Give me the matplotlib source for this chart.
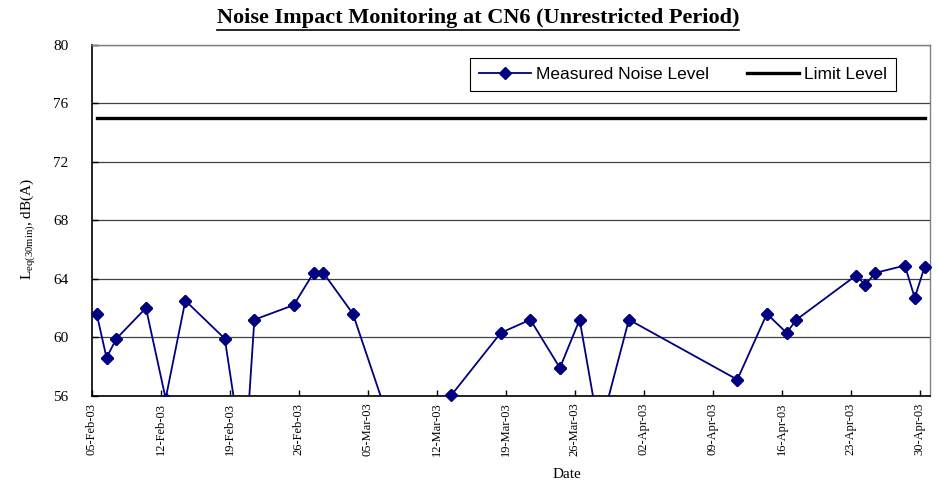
import matplotlib
matplotlib.use('Agg')
import matplotlib.pyplot as plt
import matplotlib.dates as mdates
from matplotlib.lines import Line2D
import numpy as np
import pandas as pd

# ── Data ─────────────────────────────────────────────────────────────────────
DATES = [
    '2003-02-05', '2003-02-06', '2003-02-07', '2003-02-10', '2003-02-12',
    '2003-02-14', '2003-02-18', '2003-02-20', '2003-02-21', '2003-02-25',
    '2003-02-27', '2003-02-28', '2003-03-03', '2003-03-07', '2003-03-13',
    '2003-03-18', '2003-03-21', '2003-03-24', '2003-03-26', '2003-03-28',
    '2003-03-31', '2003-04-11', '2003-04-14', '2003-04-16', '2003-04-17',
    '2003-04-23', '2003-04-24', '2003-04-25', '2003-04-28', '2003-04-29',
    '2003-04-30',
]
NOISE = [
    61.6, 58.6, 59.9, 62.0, 55.8,
    62.5, 59.9, 51.0, 61.2, 62.2,
    64.4, 64.4, 61.6, 53.6, 56.05,
    60.3, 61.2, 57.9, 61.2, 53.5,
    61.2, 57.1, 61.6, 60.3, 61.2,
    64.2, 63.6, 64.4, 64.9, 62.7,
    64.8,
]
LIMIT = 75
Y_TICKS = [56, 60, 64, 68, 72, 76, 80]
X_START, X_END = '2003-02-05', '2003-05-01'

NAVY = '#000080'

plt.rcParams['font.family'] = ['Liberation Serif', 'DejaVu Serif']
plt.rcParams['mathtext.fontset'] = 'custom'
plt.rcParams['mathtext.rm'] = 'Liberation Serif'
plt.rcParams['mathtext.it'] = 'Liberation Serif:italic'

# Excel puts each day's point in the middle of the day
x = pd.to_datetime(DATES) + pd.Timedelta(hours=12)
noise = np.array(NOISE)

fig = plt.figure(figsize=(9.39, 4.84), dpi=100)
ax = fig.add_axes([0.0977, 0.1824, 0.8922, 0.7252])

ax.plot(x, noise, color=NAVY, lw=1.3, marker='D', ms=6,
        label='Measured Noise Level', zorder=3)
# markers are not clipped in the original
visible = np.where(noise >= Y_TICKS[0], noise, np.nan)
ax.plot(x, visible, ls='none', marker='D', ms=6, color=NAVY,
        clip_on=False, zorder=4)
ax.plot(x, [LIMIT] * len(x), color='black', lw=2.4, label='Limit Level', zorder=2)

ax.set_ylim(Y_TICKS[0], Y_TICKS[-1])
ax.set_yticks(Y_TICKS)
ax.set_xlim(pd.Timestamp(X_START), pd.Timestamp(X_END))
ticks = pd.date_range('2003-02-05', '2003-04-30', freq='7D')
ax.set_xticks(mdates.date2num(ticks))
ax.xaxis.set_major_formatter(mdates.DateFormatter('%d-%b-%y'))

ax.yaxis.grid(True, color='#404040', lw=0.9)
ax.set_axisbelow(True)

for side in ['top', 'right']:
    ax.spines[side].set_color('#808080')
    ax.spines[side].set_linewidth(1.0)
for side in ['left', 'bottom']:
    ax.spines[side].set_color('black')
    ax.spines[side].set_linewidth(1.2)

ax.tick_params(axis='both', direction='in', length=4, width=1)
ax.tick_params(axis='x', labelrotation=90, labelsize=9, pad=5)
ax.tick_params(axis='y', labelsize=11, pad=17)

ax.set_xlabel('Date', fontsize=11)
ax.xaxis.set_label_coords(0.567, -0.205)
ax.set_ylabel(r'L$_{\mathrm{eq(30min)}}$, dB(A)', fontsize=11)
ax.yaxis.set_label_coords(-0.0653, 0.475)

leg = ax.legend(loc='upper right', bbox_to_anchor=(0.960, 0.961), ncol=2,
                borderaxespad=0, fancybox=False, edgecolor='black', framealpha=1,
                prop={'family': 'Liberation Sans', 'size': 12.5},
                handlelength=3.0, handletextpad=0.3, columnspacing=2.2,
                borderpad=0.5)
leg.get_frame().set_linewidth(0.8)

title = fig.text(478 / 939, 1 - 18 / 484,
                 'Noise Impact Monitoring at CN6 (Unrestricted Period)',
                 ha='center', va='center', fontsize=16, fontweight='bold')

# underline the title
fig.canvas.draw()
bb = title.get_window_extent()
W, H = fig.get_size_inches() * fig.dpi
uy = (bb.y0 - 2) / H
fig.add_artist(Line2D([bb.x0 / W, bb.x1 / W], [uy, uy], color='black', lw=1.2))

plt.savefig('out.png', dpi=100)
